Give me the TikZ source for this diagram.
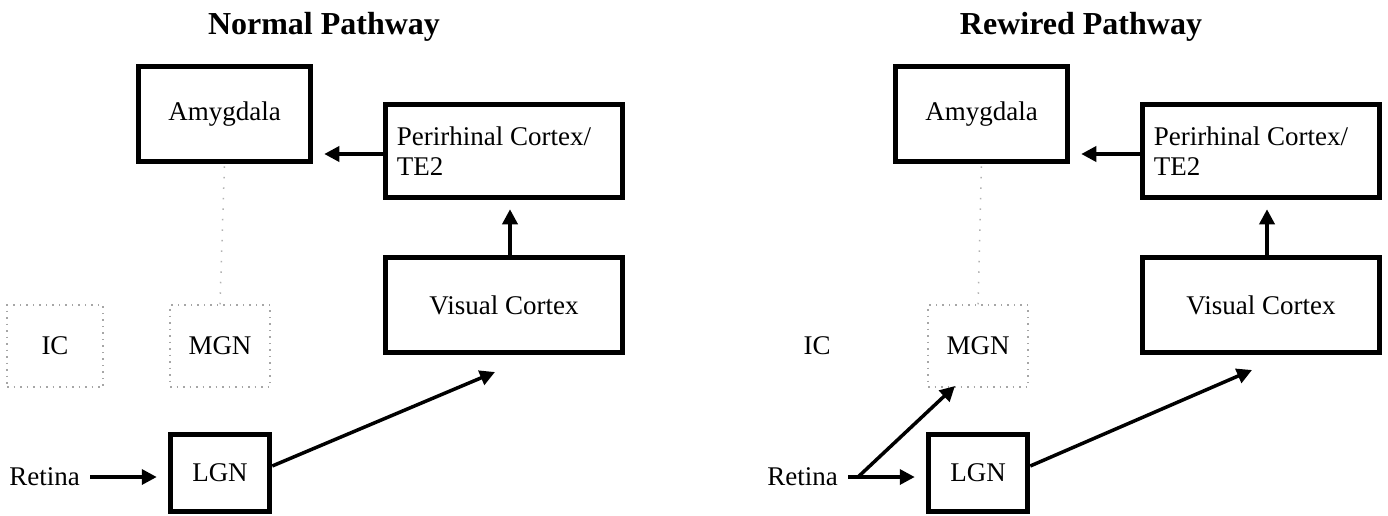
\documentclass[tikz,border=0pt]{standalone}
\usepackage{fontspec}
\setmainfont{Liberation Serif}
\usetikzlibrary{arrows.meta,calc}
\begin{document}
\begin{tikzpicture}[x=1pt,y=-1pt,
  box/.style={draw=black,line width=5.5pt,minimum width=#1,inner sep=0pt,font=\fontsize{27}{30}\selectfont},
  faint/.style={draw=black!35,dash pattern=on 1.5pt off 5pt,line width=1.5pt,inner sep=0pt,font=\fontsize{27}{30}\selectfont},
  lbl/.style={inner sep=0pt,font=\fontsize{27}{30}\selectfont},
  ttl/.style={inner sep=0pt,font=\fontsize{32}{36}\selectfont\bfseries},
  arr/.style={line width=3.5pt,-{Triangle[length=15pt,width=15pt]}},
  ghost/.style={draw=black!30,line width=1.5pt,dash pattern=on 1.5pt off 9pt}]
\useasboundingbox (0,0) rectangle (1388,516);
% ---------- Normal pathway ----------
\node[ttl] (t1) at (324,27) {Normal Pathway};
\node[box=172pt,minimum height=95pt] (a1) at (224.5,114) {Amygdala};
\node[box=237pt,minimum height=93pt] (p1) at (504,151) {};
\node[lbl,anchor=west,align=left] (pt1) at ([xshift=14pt]p1.west) {Perirhinal Cortex/\\TE2};
\node[box=237pt,minimum height=95pt] (v1) at (504,305) {Visual Cortex};
\node[faint,minimum width=96pt,minimum height=82pt] (i1) at (55,346) {IC};
\node[faint,minimum width=100pt,minimum height=82pt] (m1) at (220,346) {MGN};
\node[box=99pt,minimum height=77pt] (l1) at (220,473) {LGN};
\node[lbl,anchor=east] (r1) at (80,477) {Retina};
\coordinate (vt1) at (495,372);
\draw[ghost] (m1.north) -- (a1.south);
\draw[arr,shorten >=11pt] ([yshift=-3pt]p1.west) -- ([yshift=-3pt]p1.west -| a1.east);
\draw[arr,shorten >=9pt] ([xshift=6pt]v1.north) -- ([xshift=6pt]v1.north |- p1.south);
\draw[arr,shorten <=10pt,shorten >=11pt] (r1.east) -- (r1.east -| l1.west);
\draw[arr] ([yshift=7pt]l1.east) -- (vt1);
% ---------- Rewired pathway ----------
\begin{scope}[xshift=757pt]
\node[ttl] (t2) at (324,27) {Rewired Pathway};
\node[box=172pt,minimum height=95pt] (a2) at (224.5,114) {Amygdala};
\node[box=237pt,minimum height=93pt] (p2) at (504,151) {};
\node[lbl,anchor=west,align=left] (pt2) at ([xshift=14pt]p2.west) {Perirhinal Cortex/\\TE2};
\node[box=237pt,minimum height=95pt] (v2) at (504,305) {Visual Cortex};
\node[lbl] (i2) at (60,346) {IC};
\node[faint,minimum width=100pt,minimum height=82pt] (m2) at (221,346) {MGN};
\node[box=99pt,minimum height=77pt] (l2) at (221,473) {LGN};
\node[lbl,anchor=east] (r2) at (81,477) {Retina};
\coordinate (vt2) at (495,370);
\coordinate (mt2) at (198,386);
\coordinate (rs2) at (101,477);
\draw[ghost] (m2.north) -- (a2.south);
\draw[arr,shorten >=11pt] ([yshift=-3pt]p2.west) -- ([yshift=-3pt]p2.west -| a2.east);
\draw[arr,shorten >=9pt] ([xshift=6pt]v2.north) -- ([xshift=6pt]v2.north |- p2.south);
\draw[arr,shorten <=10pt,shorten >=11pt] (r2.east) -- (r2.east -| l2.west);
\draw[arr] (rs2) -- (mt2);
\draw[arr] ([yshift=7pt]l2.east) -- (vt2);
\end{scope}
\end{tikzpicture}
\end{document}
